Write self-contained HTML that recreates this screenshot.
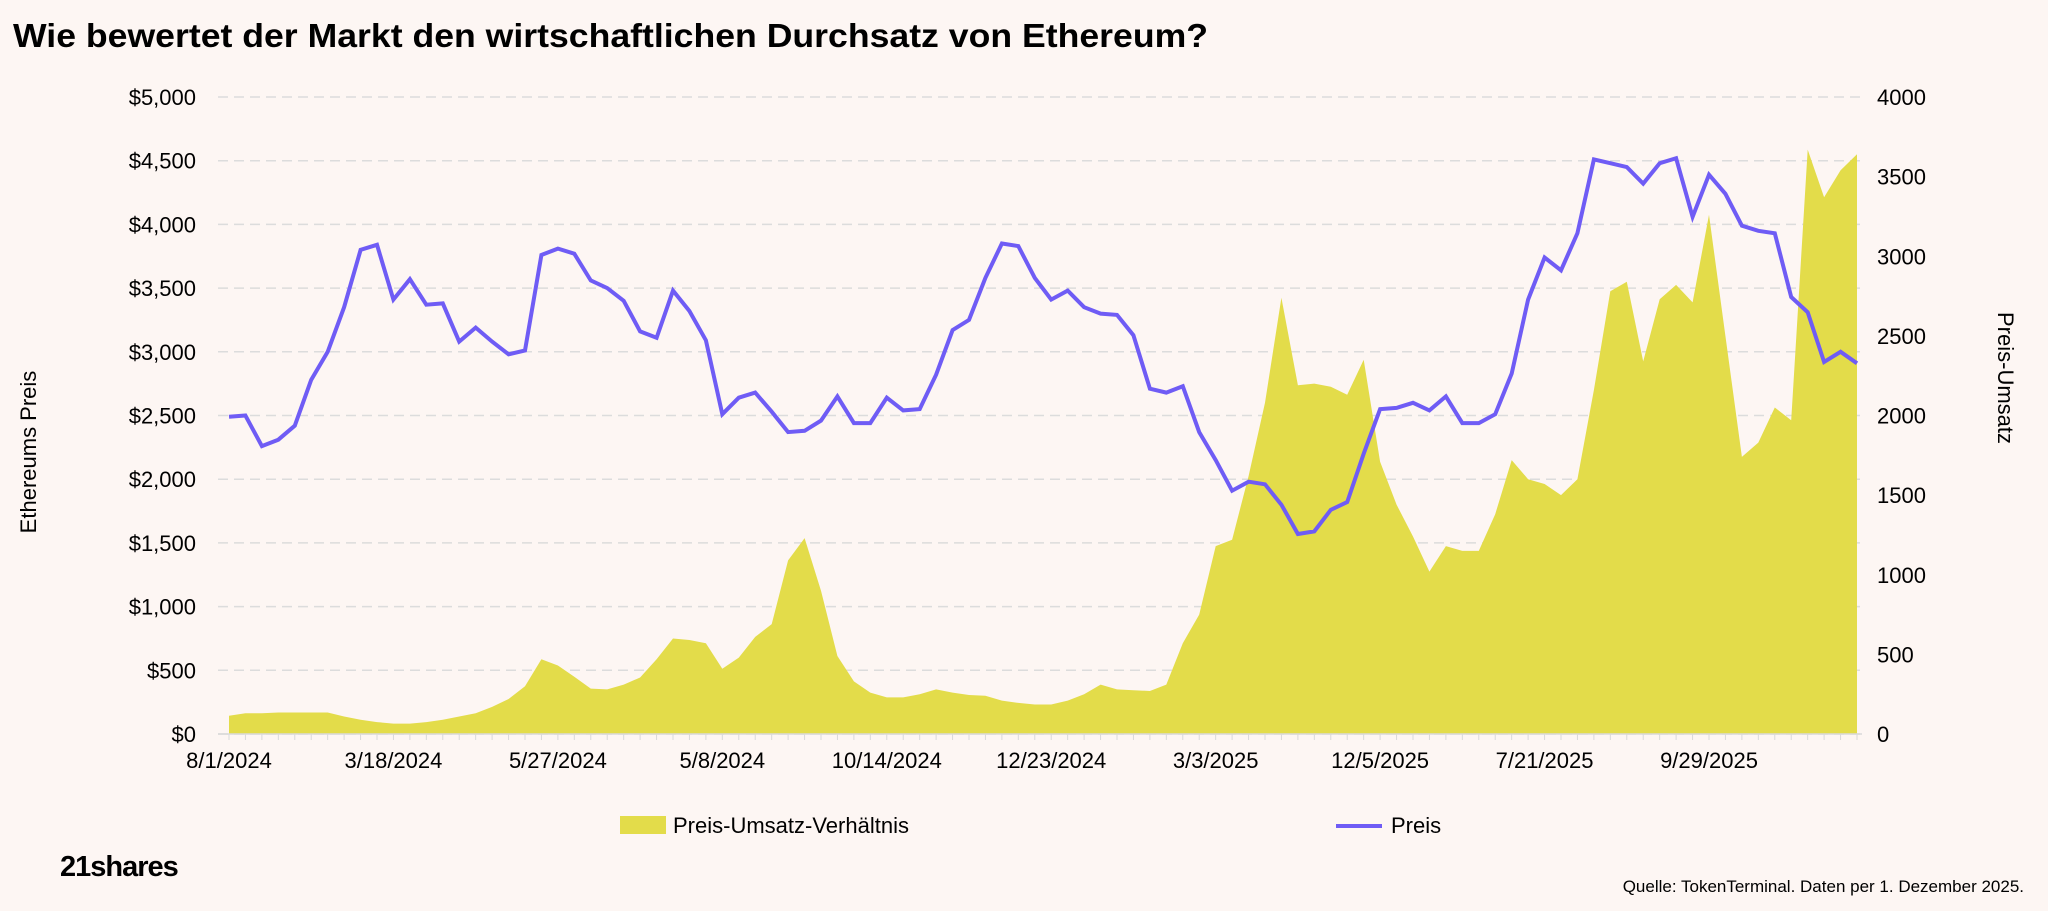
<!DOCTYPE html>
<html><head><meta charset="utf-8"><style>
body{margin:0;background:#fdf6f3;}
#wrap{position:relative;width:2048px;height:911px;overflow:hidden;background:#fdf6f3;font-family:"Liberation Sans",sans-serif;}
</style></head><body>
<div id="wrap">
<svg id="chart" width="2048" height="911" xmlns="http://www.w3.org/2000/svg">
<text x="13" y="47" font-family="Liberation Sans, sans-serif" font-weight="bold" font-size="33" textLength="1195" lengthAdjust="spacingAndGlyphs" fill="#000">Wie bewertet der Markt den wirtschaftlichen Durchsatz von Ethereum?</text>
<g id="grid"></g><g id="area"></g><g id="line"></g><g id="axes"></g>
<text transform="translate(36,452) rotate(-90)" text-anchor="middle" font-size="22" fill="#000">Ethereums Preis</text>
<text transform="translate(1998,378) rotate(90)" text-anchor="middle" font-size="22" fill="#000">Preis-Umsatz</text>
<g>
<rect x="620" y="816" width="46" height="18" fill="#e3dc4a"/>
<text x="673" y="833" font-size="22">Preis-Umsatz-Verhältnis</text>
<line x1="1336" y1="826" x2="1382" y2="826" stroke="#6f5cf5" stroke-width="4"/>
<text x="1391" y="833" font-size="22">Preis</text>
</g>
<text x="60" y="876" font-size="29" font-weight="bold" letter-spacing="-1">21shares</text>
<text x="2024" y="892" text-anchor="end" font-size="17">Quelle: TokenTerminal. Daten per 1. Dezember 2025.</text>
</svg>
</div>
<script>
const xLabels=["8/1/2024","3/18/2024","5/27/2024","5/8/2024","10/14/2024","12/23/2024","3/3/2025","12/5/2025","7/21/2025","9/29/2025"];
const leftTicks=[0,500,1000,1500,2000,2500,3000,3500,4000,4500,5000];
const rightTicks=[0,500,1000,1500,2000,2500,3000,3500,4000];
const price=[2490,2500,2260,2310,2420,2780,3000,3350,3800,3840,3410,3570,3370,3380,3080,3190,3080,2980,3010,3760,3810,3770,3560,3500,3400,3160,3110,3480,3320,3090,2510,2640,2680,2530,2370,2380,2460,2650,2440,2440,2640,2540,2550,2820,3170,3250,3580,3850,3830,3580,3410,3480,3350,3300,3290,3130,2710,2680,2730,2370,2150,1910,1980,1960,1800,1570,1590,1760,1820,2200,2550,2560,2600,2540,2650,2440,2440,2510,2830,3410,3740,3640,3930,4510,4480,4450,4320,4480,4520,4060,4390,4240,3990,3950,3930,3430,3310,2920,3000,2910];
const ratio=[115,130,130,135,135,135,135,110,90,75,65,65,75,90,110,130,170,220,300,470,430,360,285,280,310,355,470,600,590,570,410,480,610,690,1090,1230,900,490,330,260,230,230,250,280,260,245,240,210,195,185,185,210,250,310,280,275,270,310,570,750,1180,1220,1620,2080,2740,2190,2200,2180,2130,2350,1710,1440,1240,1020,1180,1150,1150,1380,1720,1600,1570,1500,1600,2160,2780,2840,2340,2730,2820,2710,3260,2500,1740,1830,2050,1970,3670,3370,3540,3640];
const NS="http://www.w3.org/2000/svg";
const X0=229,X1=1857,YB=734,YT=97;
const n=price.length;
function xs(i){return X0+(X1-X0)*i/(n-1);}
function yl(v){return YB-(YB-YT)*v/5000;}
function yr(v){return YB-(YB-YT)*v/4000;}
function mk(tag,attrs,parent){const e=document.createElementNS(NS,tag);for(const k in attrs)e.setAttribute(k,attrs[k]);parent.appendChild(e);return e;}
const grid=document.getElementById('grid'),axes=document.getElementById('axes');
leftTicks.forEach(v=>{
 const g=mk('line',{x1:218,x2:1862,y1:yl(v),y2:yl(v),stroke:'#dcdcdc','stroke-width':1.5,'stroke-dasharray':'10,6'},grid);
 
 
 const t=mk('text',{x:196,y:yl(v)+8,'text-anchor':'end','font-size':22,fill:'#000'},axes);
 t.textContent='$'+v.toLocaleString('en-US');
 
 
});
rightTicks.forEach(v=>{
 const t=mk('text',{x:1877,y:yr(v)+8,'font-size':22,fill:'#000'},axes);
 t.textContent=String(v);
 
 
});
const base=mk('line',{x1:218,x2:1862,y1:YB,y2:YB,stroke:'#d9d9d9','stroke-width':1.5},axes);


for(let i=0;i<n;i++){
 const tk=mk('line',{x1:xs(i),x2:xs(i),y1:YB,y2:YB+6,stroke:'#d9d9d9','stroke-width':1},axes);
 
 
}
xLabels.forEach((l,k)=>{
 const t=mk('text',{x:xs(k*10),y:768,'text-anchor':'middle','font-size':22,fill:'#000'},axes);
 t.textContent=l;
 
 
});
let d='M'+xs(0)+','+YB;
ratio.forEach((v,i)=>{d+=' L'+xs(i).toFixed(1)+','+yr(v).toFixed(1);});
d+=' L'+xs(n-1)+','+YB+' Z';
const a=mk('path',{d:d,fill:'#e3dc4a'},document.getElementById('area'));


const pts=price.map((v,i)=>xs(i).toFixed(1)+','+yl(v).toFixed(1)).join(' ');
const p=mk('polyline',{points:pts,fill:'none',stroke:'#6f5cf5','stroke-width':4,'stroke-linejoin':'miter'},document.getElementById('line'));


</script>
</body></html>
